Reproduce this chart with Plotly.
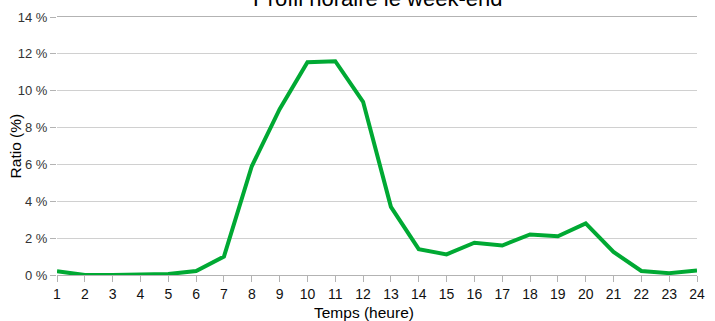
import plotly.graph_objects as go

# hourly profile, weekend
heures = list(range(1, 25))
ratio = [0.2, 0.0, 0.0, 0.0, 0.05, 0.22, 1.0, 5.9, 9.0, 11.55, 11.6, 9.4,
         3.7, 1.4, 1.12, 1.75, 1.6, 2.2, 2.1, 2.8, 1.25, 0.22, 0.1, 0.25]
y_ticks = [0, 2, 4, 6, 8, 10, 12, 14]

fnt = "Liberation Sans, Arial, sans-serif"

fig = go.Figure(go.Scatter(x=heures, y=ratio, mode="lines",
                           line=dict(color="#00a933", width=4)))

fig.update_layout(
    width=715, height=321,
    margin=dict(l=57, r=10, t=16, b=46),
    paper_bgcolor="white", plot_bgcolor="white",
    showlegend=False,
    font=dict(family=fnt, color="#333333"),
    xaxis=dict(range=[1, 24], tickmode="array", tickvals=heures,
               showgrid=False, showline=True, linecolor="#b3b3b3", mirror=True,
               ticks="outside", ticklen=6, tickcolor="#b3b3b3",
               tickfont=dict(size=14, color="#111111"), zeroline=False),
    yaxis=dict(range=[0, 14], tickmode="array", tickvals=y_ticks,
               ticktext=[f"{v} %" for v in y_ticks],
               showgrid=True, gridcolor="#d0d0d0", gridwidth=1,
               showline=False, ticks="outside", ticklen=6, tickcolor="#b3b3b3",
               tickfont=dict(size=13, color="#333333"), zeroline=False),
    annotations=[
        # title sits partly above the page, as in the source image
        dict(text="Profil horaire le week-end", xref="paper", yref="paper",
             x=0.5, y=1.0, xanchor="center", yanchor="bottom", yshift=4,
             showarrow=False, font=dict(size=22, color="#000000")),
        dict(text="Ratio (%)", textangle=-90, xref="paper", yref="paper",
             x=-0.065, y=0.5, xanchor="center", yanchor="middle",
             showarrow=False, font=dict(size=15.5, color="#000000")),
        dict(text="Temps (heure)", xref="paper", yref="paper",
             x=0.48, y=-0.104, xanchor="center", yanchor="top",
             showarrow=False, font=dict(size=15.5, color="#000000")),
    ],
)

fig.write_html("out.html", config={"displayModeBar": False},
               post_script="document.body.style.margin='0';")
